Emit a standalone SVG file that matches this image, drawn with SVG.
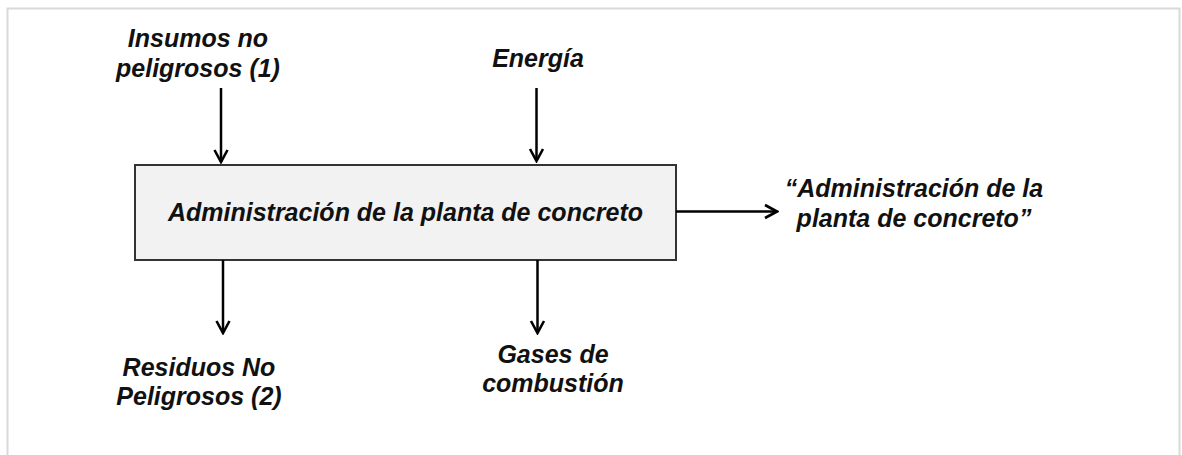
<svg xmlns="http://www.w3.org/2000/svg" width="1182" height="455" viewBox="0 0 1182 455">
<style>
  .t { font-family: "Liberation Sans", Arial, sans-serif; font-weight: bold; font-style: italic; font-size: 25px; fill: #111; text-anchor: middle; }
  .conn { stroke: #000; stroke-width: 2.5; fill: none; }
  .box { fill: #f2f2f2; stroke: #333; stroke-width: 2; }
</style>
<defs>
  <marker id="ah" viewBox="-14 -9 16 18" refX="0" refY="0" markerWidth="16" markerHeight="18" orient="auto" markerUnits="userSpaceOnUse">
    <path d="M-12,-6.5 L0,0 L-12,6.5" fill="none" stroke="#000" stroke-width="2.6"/>
  </marker>
</defs>
<rect x="0" y="0" width="1182" height="455" fill="#fff"/>
<rect x="7.5" y="8.5" width="1172" height="460" fill="none" stroke="#d9d9d9" stroke-width="2"/>

<g id="proceso">
  <rect class="box" x="135" y="165" width="541" height="95"/>
  <text class="t" x="405.5" y="220.5">Administración de la planta de concreto</text>
</g>
<g id="insumos">
  <text class="t" x="198" y="46.5">Insumos no</text>
  <text class="t" x="198" y="76.5">peligrosos (1)</text>
</g>
<g id="energia">
  <text class="t" x="538" y="66.5">Energía</text>
</g>
<g id="salida">
  <text class="t" x="914" y="197">“Administración de la</text>
  <text class="t" x="914" y="227">planta de concreto”</text>
</g>
<g id="residuos">
  <text class="t" x="199" y="375.5">Residuos No</text>
  <text class="t" x="199" y="404.5">Peligrosos (2)</text>
</g>
<g id="gases">
  <text class="t" x="553" y="363">Gases de</text>
  <text class="t" x="553" y="392">combustión</text>
</g>

<g id="connectors">
  <line class="conn" x1="221" y1="88" x2="221" y2="162" marker-end="url(#ah)"/>
  <line class="conn" x1="536.5" y1="88" x2="536.5" y2="161" marker-end="url(#ah)"/>
  <line class="conn" x1="676" y1="211.5" x2="777" y2="211.5" marker-end="url(#ah)"/>
  <line class="conn" x1="223" y1="260" x2="223" y2="333" marker-end="url(#ah)"/>
  <line class="conn" x1="537.5" y1="260" x2="537.5" y2="333" marker-end="url(#ah)"/>
</g>
</svg>
